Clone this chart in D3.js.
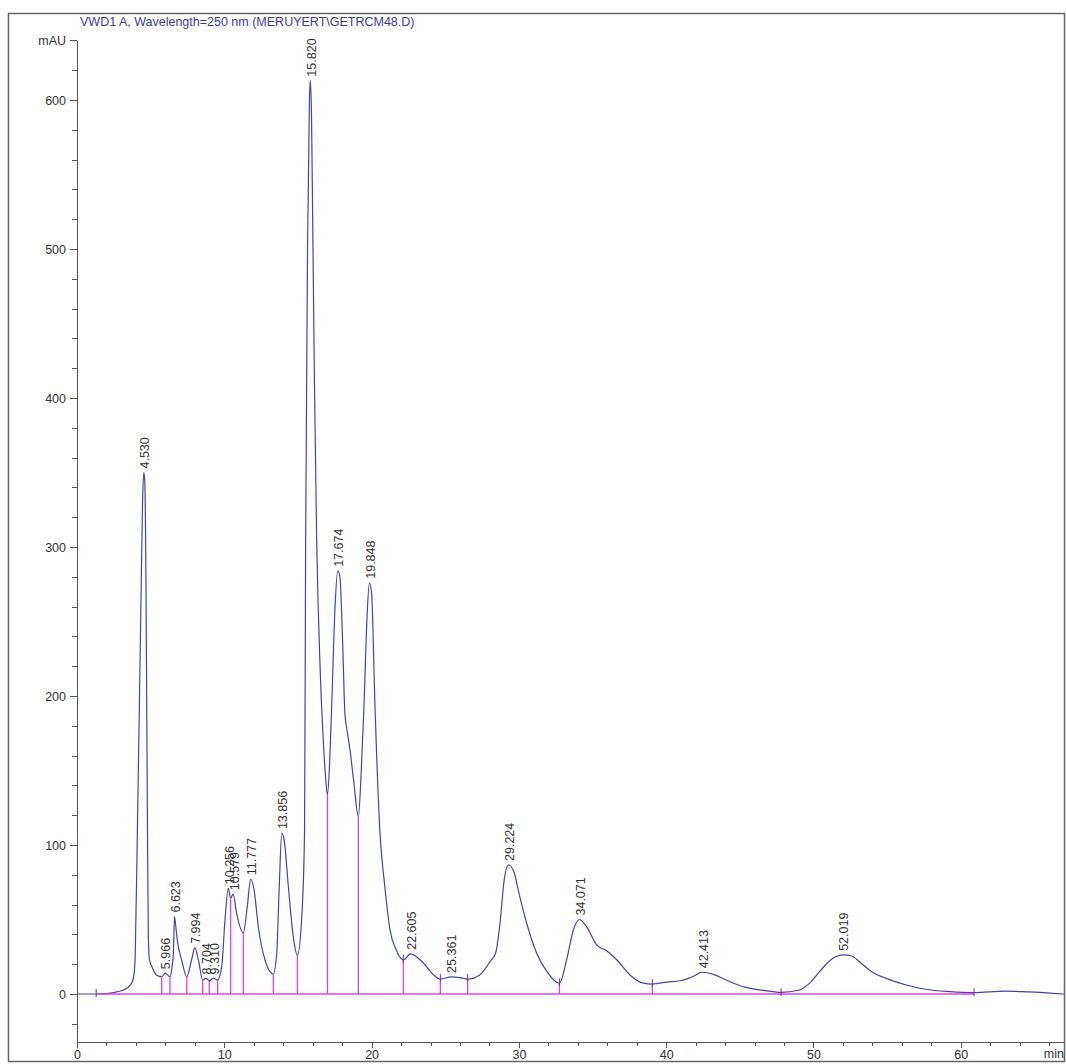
<!doctype html>
<html>
<head>
  <script src="https://cdnjs.cloudflare.com/ajax/libs/d3/7.8.5/d3.min.js"></script>
  <style>
    body { margin: 0; background: #fff; }
    text { font-family: "Liberation Sans", Arial, sans-serif; }
    .axis path, .axis line { stroke: #555; shape-rendering: crispEdges; }
    .axis text { font-size: 12.5px; fill: #333; }
  </style>
</head>
<body>
  <svg id="chart" width="1066" height="1064"></svg>
  <script>
    // trace: [time min, mAU]
    var trace = [
      [0,0],[1.3,0],[2.0,0.3],[2.5,1],[3.0,2.2],[3.4,4],[3.75,8],[3.88,14],[3.95,25],
      [4.1,110],[4.3,235],[4.45,330],[4.53,350],[4.6,345],[4.68,280],[4.76,150],[4.84,40],
      [4.92,23],[5.1,18],[5.4,12.8],[5.75,11.6],[5.98,14],[6.31,11.6],[6.45,18],[6.54,27],
      [6.62,52],[6.7,46],[6.81,36],[7.1,23],[7.45,11.6],[7.78,23],[8.0,31],[8.24,23],
      [8.53,9.4],[8.76,10.5],[8.98,9],[9.26,10.5],[9.55,9.4],[9.82,18],[10.05,50],[10.27,71],
      [10.43,64.4],[10.6,67],[10.84,54],[11.29,41],[11.56,58.6],[11.79,77],[12.02,70],
      [12.31,45],[12.76,23],[13.33,13.4],[13.56,27.5],[13.73,72],[13.9,108],[14.07,103],
      [14.35,72],[14.69,38],[14.96,26],[15.25,50],[15.45,110],[15.52,300],[15.65,500],
      [15.78,600],[15.84,613],[15.92,590],[16.0,520],[16.12,410],[16.27,305],[16.5,220],
      [16.72,170],[16.88,145],[17.0,133.6],[17.15,155],[17.29,193],[17.52,260],[17.7,284],
      [17.85,280],[18.03,237.6],[18.19,188],[18.35,176],[18.53,164],[18.8,141.6],[19.1,119],
      [19.3,150],[19.48,193],[19.7,255],[19.85,276],[20.0,269],[20.23,193],[20.57,108],
      [20.9,72],[21.25,43],[21.65,30],[22.15,23],[22.65,27],[23.5,21],[24.2,13],[24.67,10],
      [25.4,11.5],[26.0,11],[26.52,10],[27.36,13],[28.04,21.7],[28.42,27.5],[28.72,47.5],
      [29.0,76.5],[29.28,86.6],[29.62,83],[30.07,65],[30.53,47.5],[31.2,27.5],[31.9,15],
      [32.75,7.2],[33.24,23],[33.7,43],[34.1,50],[34.6,45],[35.28,33],[35.96,29],[36.64,23],
      [37.54,12.8],[38.45,7.3],[39.06,6.7],[40.03,8],[40.94,8.9],[41.5,10.5],[41.86,11.9],
      [42.44,14.6],[43.25,13],[44.18,8.9],[45.34,4.6],[46.73,2.3],[47.8,1.1],[49.05,2.7],
      [49.74,7.3],[50.44,15.3],[51.0,21.5],[51.5,25],[52.0,26.3],[52.6,25.5],[53.2,21],
      [53.9,15.3],[55.08,10],[56.24,6.2],[57.6,3.2],[59.26,1.6],[60.9,0.9],[63.0,2],
      [64.6,1.4],[67.0,0]
    ];
    // peak labels: [time, apex mAU, label]
    var peaks = [
      [4.53,350,"4.530"],[5.98,14,"5.966"],[6.62,52,"6.623"],[8.0,31,"7.994"],
      [8.74,10.5,"8.704"],[9.3,10.5,"9.310"],[10.27,71,"10.256"],[10.6,67,"10.579"],
      [11.79,77,"11.777"],[13.9,108,"13.856"],[15.84,613,"15.820"],[17.7,284,"17.674"],
      [19.85,276,"19.848"],[22.65,27,"22.605"],[25.38,11.5,"25.361"],[29.28,86.6,"29.224"],
      [34.1,50,"34.071"],[42.44,14.6,"42.413"],[52.0,26.3,"52.019"]
    ];
    // drop lines (peak splits): [time, mAU at trace]
    var drops = [
      [5.75,11.6],[6.31,11.6],[7.45,11.6],[8.53,9.4],[8.98,9],[9.55,9.4],[10.43,64.4],
      [11.29,41],[13.33,13.4],[14.96,26],[17.0,133.6],[19.1,119],[22.15,23],[24.67,10],
      [26.52,10],[32.75,7.2],[39.06,6.7]
    ];
    // baseline start/end tick marks: [time, mAU]
    var baseMarks = [[1.3,0],[22.15,23],[24.67,10],[26.52,10],[32.75,7.2],[39.06,6.7],[47.8,0.6],[60.9,0.6]];
    var baseline = [1.3, 60.9];
    var xMajor = [0,10,20,30,40,50,60];
    var yMajor = [0,100,200,300,400,500,600];
    var title = "VWD1 A, Wavelength=250 nm (MERUYERT\\GETRCM48.D)";

    var svg = d3.select("#chart");
    var x = d3.scaleLinear().domain([0, 67]).range([77, 1063.9]);
    var y = d3.scaleLinear().domain([-32.2, 640]).range([1042, 40.4]);

    // frame
    svg.append("rect").attr("x", 8.5).attr("y", 13.5).attr("width", 1056).attr("height", 1048)
      .attr("fill", "none").attr("stroke", "#666").attr("stroke-width", 1.5);

    svg.append("text").attr("x", 80).attr("y", 26).attr("fill", "#3b3ba6")
      .style("font-size", "12.5px").text(title);

    // y axis
    var yMinor = svg.append("g").attr("class", "axis").attr("transform", "translate(77,0)")
      .call(d3.axisLeft(y).tickValues(d3.range(-20, 641, 20)).tickSize(5).tickSizeOuter(0).tickFormat(""));
    yMinor.select(".domain").remove();
    svg.append("g").attr("class", "axis").attr("transform", "translate(77,0)")
      .call(d3.axisLeft(y).tickValues(yMajor.concat([640])).tickSize(7).tickSizeOuter(0).tickPadding(4)
        .tickFormat(function(d) { return d === 640 ? "mAU" : d; }));

    // x axis
    var xMinorG = svg.append("g").attr("class", "axis").attr("transform", "translate(0,1042)")
      .call(d3.axisBottom(x).tickValues(d3.range(2, 67, 2)).tickSize(4).tickSizeOuter(0).tickFormat(""));
    xMinorG.select(".domain").remove();
    svg.append("g").attr("class", "axis").attr("transform", "translate(0,1042)")
      .call(d3.axisBottom(x).tickValues(xMajor).tickSize(6).tickSizeOuter(0).tickPadding(2));
    svg.append("text").attr("x", 1064).attr("y", 1058).attr("text-anchor", "end")
      .style("font-size", "12.5px").attr("fill", "#333").text("min");

    // trace
    var line = d3.line().x(function(d) { return x(d[0]); }).y(function(d) { return y(d[1]); })
      .curve(d3.curveMonotoneX);
    svg.append("path").datum(trace).attr("d", line).attr("fill", "none")
      .attr("stroke", "#4444a4").attr("stroke-width", 1.2);

    // baseline and drop lines
    svg.append("line").attr("x1", x(baseline[0])).attr("x2", x(baseline[1]))
      .attr("y1", y(0)).attr("y2", y(0)).attr("stroke", "#dd44dd").attr("stroke-width", 1.3);
    svg.selectAll(".drop").data(drops).enter().append("line").attr("class", "drop")
      .attr("x1", function(d) { return x(d[0]); }).attr("x2", function(d) { return x(d[0]); })
      .attr("y1", y(0)).attr("y2", function(d) { return y(d[1]); })
      .attr("stroke", "#dd44dd").attr("stroke-width", 1.3);
    svg.selectAll(".bmark").data(baseMarks).enter().append("line").attr("class", "bmark")
      .attr("x1", function(d) { return x(d[0]); }).attr("x2", function(d) { return x(d[0]); })
      .attr("y1", function(d) { return y(d[1]) - 5; }).attr("y2", function(d) { return y(d[1]) + 3; })
      .attr("stroke", "#6a3a80").attr("stroke-width", 1);

    // peak labels
    svg.selectAll(".plab").data(peaks).enter().append("text").attr("class", "plab")
      .attr("transform", function(d) { return "translate(" + (x(d[0]) + 1) + "," + (y(d[1]) - 4) + ") rotate(-90)"; })
      .attr("dy", "0.35em").style("font-size", "12.5px").attr("fill", "#333")
      .text(function(d) { return d[2]; });
  </script>
</body>
</html>
